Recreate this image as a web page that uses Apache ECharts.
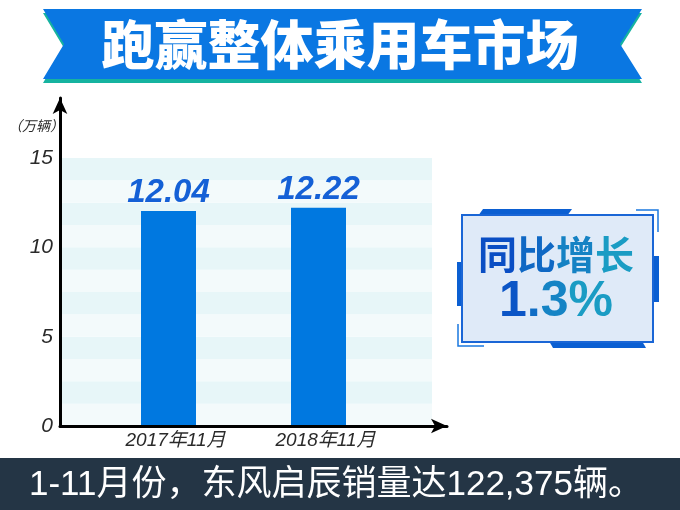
<!DOCTYPE html>
<html>
<head>
<meta charset="utf-8">
<script src="https://cdn.jsdelivr.net/npm/echarts@6/dist/echarts.min.js"></script>
<style>
html,body{margin:0;padding:0;background:#fff;}
#main{width:680px;height:510px;}
</style>
</head>
<body>
<div id="main"></div>
<script>
// ---- data ----
const titleText = '跑赢整体乘用车市场';
const unitText = '（万辆）';
const categories = ['2017年11月', '2018年11月'];
const salesValues = [12.04, 12.22];
const valueLabels = ['12.04', '12.22'];
const yTickLabels = [0, 5, 10, 15];
const yMin = 0, yMax = 15;
const growthTitle = '同比增长';
const growthValue = '1.3%';
const footerText = '1-11月份，东风启辰销量达122,375辆。';

const chart = echarts.init(document.getElementById('main'), null, {renderer: 'canvas'});

// per-character colour ramp (dark blue -> teal) for the growth box text
function lerpColor(a, b, t) {
  const pa = [1,3,5].map(i => parseInt(a.substr(i,2),16));
  const pb = [1,3,5].map(i => parseInt(b.substr(i,2),16));
  return 'rgb(' + pa.map((v,i) => Math.round(v + (pb[i]-v)*t)).join(',') + ')';
}
function gradientRich(str, fontSize, family, c0, c1) {
  const rich = {};
  let text = '';
  const chars = Array.from(str);
  chars.forEach((ch, i) => {
    const key = 'c' + i;
    const col = lerpColor(c0, c1, chars.length > 1 ? i/(chars.length-1) : 0);
    rich[key] = {fill: col, color: col, fontSize: fontSize, fontWeight: 'bold', fontFamily: family};
    text += '{' + key + '|' + ch + '}';
  });
  return {text: text, rich: rich};
}
const g1 = gradientRich(growthTitle, 39, '"Noto Sans CJK SC", sans-serif', '#0a4ec4', '#1a9cc4');
const g2 = gradientRich(growthValue, 50, 'Liberation Sans, Arial, sans-serif', '#0b55c6', '#1a9cc4');

const option = {
  animation: false,
  backgroundColor: '#ffffff',
  grid: [
    {left: 60, right: 233, top: 98, bottom: 84},
    {left: 60, right: 248, top: 158, bottom: 84},
    {left: 93.5, width: 300, top: 158, bottom: 84}
  ],
  xAxis: [
    {
      gridIndex: 0, type: 'value', min: 0, max: 1, z: 5,
      axisLine: {show: true, lineStyle: {color: '#000', width: 3}, symbol: ['none', 'arrow'], symbolSize: [11, 16]},
      axisTick: {show: false}, axisLabel: {show: false}, splitLine: {show: false}
    },
    {gridIndex: 1, type: 'value', min: 0, max: 1, show: false},
    {
      gridIndex: 2, type: 'category', data: categories,
      axisLine: {show: false}, axisTick: {show: false}, splitLine: {show: false},
      axisLabel: {
        fontSize: 19, fontStyle: 'italic', color: '#2a2a2a', margin: 5,
        fontFamily: 'Liberation Sans, "Noto Sans CJK SC", sans-serif',
        padding: [0, 0, 0, 14]
      }
    }
  ],
  yAxis: [
    {
      gridIndex: 0, type: 'value', min: 0, max: 1, z: 5,
      axisLine: {show: true, lineStyle: {color: '#000', width: 3}, symbol: ['none', 'arrow'], symbolSize: [11, 16]},
      axisTick: {show: false}, axisLabel: {show: false}, splitLine: {show: false}
    },
    {
      gridIndex: 1, type: 'value', min: yMin, max: yMax, interval: 1.25,
      axisLine: {show: false}, axisTick: {show: false}, splitLine: {show: false},
      splitArea: {show: true, areaStyle: {color: ['#f3fafb', '#e7f6f8']}},
      axisLabel: {
        fontSize: 21, fontStyle: 'italic', color: '#2a2a2a', margin: 7,
        fontFamily: 'Liberation Sans, sans-serif',
        formatter: function (v) { return yTickLabels.indexOf(v) >= 0 ? String(v) : ''; }
      }
    },
    {gridIndex: 2, type: 'value', min: yMin, max: yMax, show: false}
  ],
  series: [
    {
      type: 'bar', xAxisIndex: 2, yAxisIndex: 2,
      data: salesValues, barWidth: 55,
      itemStyle: {color: '#0078e0'},
      label: {
        show: true, position: 'top', distance: 1,
        formatter: function (p) { return valueLabels[p.dataIndex]; },
        fontSize: 33, fontWeight: 'bold', fontStyle: 'italic', color: '#1560d6',
        fontFamily: 'Liberation Sans, Arial, sans-serif'
      }
    }
  ],
  graphic: [
    {type: 'polygon', z: 1, shape: {points: [[43,13],[642,13],[620,48],[642,83],[43,83],[64,48]]}, style: {fill: '#16b3a0'}},
    {type: 'polygon', z: 2, shape: {points: [[43,9],[642,9],[620,44],[642,79],[43,79],[64,44]]}, style: {fill: '#0a77e2'}},
    {type: 'text', z: 3, x: 340, y: 45, style: {
      text: titleText, fill: '#ffffff', fontSize: 53, fontWeight: 900,
      fontFamily: '"Noto Sans CJK SC", sans-serif', align: 'center', verticalAlign: 'middle'
    }},
    {type: 'text', x: 8, y: 126, style: {
      text: unitText, fill: '#2a2a2a', fontSize: 14, fontStyle: 'italic',
      fontFamily: '"Noto Sans CJK SC", sans-serif', align: 'left', verticalAlign: 'middle'
    }},
    {type: 'polygon', z: 1, shape: {points: [[478,216],[483,209],[572,209],[567,216]]}, style: {fill: '#0b5fd2'}},
    {type: 'polyline', z: 1, shape: {points: [[636,210],[658,210],[658,232]]}, style: {stroke: '#1a78e0', lineWidth: 1.5, fill: null}},
    {type: 'rect', z: 1, shape: {x: 654, y: 256, width: 5, height: 46}, style: {fill: '#0b5fd2'}},
    {type: 'rect', z: 1, shape: {x: 457, y: 262, width: 5, height: 44}, style: {fill: '#0b5fd2'}},
    {type: 'polyline', z: 1, shape: {points: [[458,324],[458,346],[484,346]]}, style: {stroke: '#1a78e0', lineWidth: 1.5, fill: null}},
    {type: 'polygon', z: 1, shape: {points: [[549,341],[642,341],[646,348],[553,348]]}, style: {fill: '#0b5fd2'}},
    {type: 'rect', z: 2, shape: {x: 462, y: 215, width: 191, height: 127}, style: {fill: '#dfeaf8', stroke: '#1a66d6', lineWidth: 2}},
    {type: 'text', z: 3, x: 556, y: 254, style: {
      text: g1.text, rich: g1.rich, align: 'center', verticalAlign: 'middle'
    }},
    {type: 'text', z: 3, x: 556, y: 302, style: {
      text: g2.text, rich: g2.rich, align: 'center', verticalAlign: 'middle'
    }},
    {type: 'rect', z: 1, shape: {x: 0, y: 458, width: 680, height: 52}, style: {fill: '#243545'}},
    {type: 'text', z: 2, x: 29, y: 485, style: {
      text: footerText, fill: '#ffffff', fontSize: 35,
      fontFamily: 'Liberation Sans, "Noto Sans CJK SC", sans-serif', align: 'left', verticalAlign: 'middle'
    }}
  ]
};
chart.setOption(option);
</script>
</body>
</html>
